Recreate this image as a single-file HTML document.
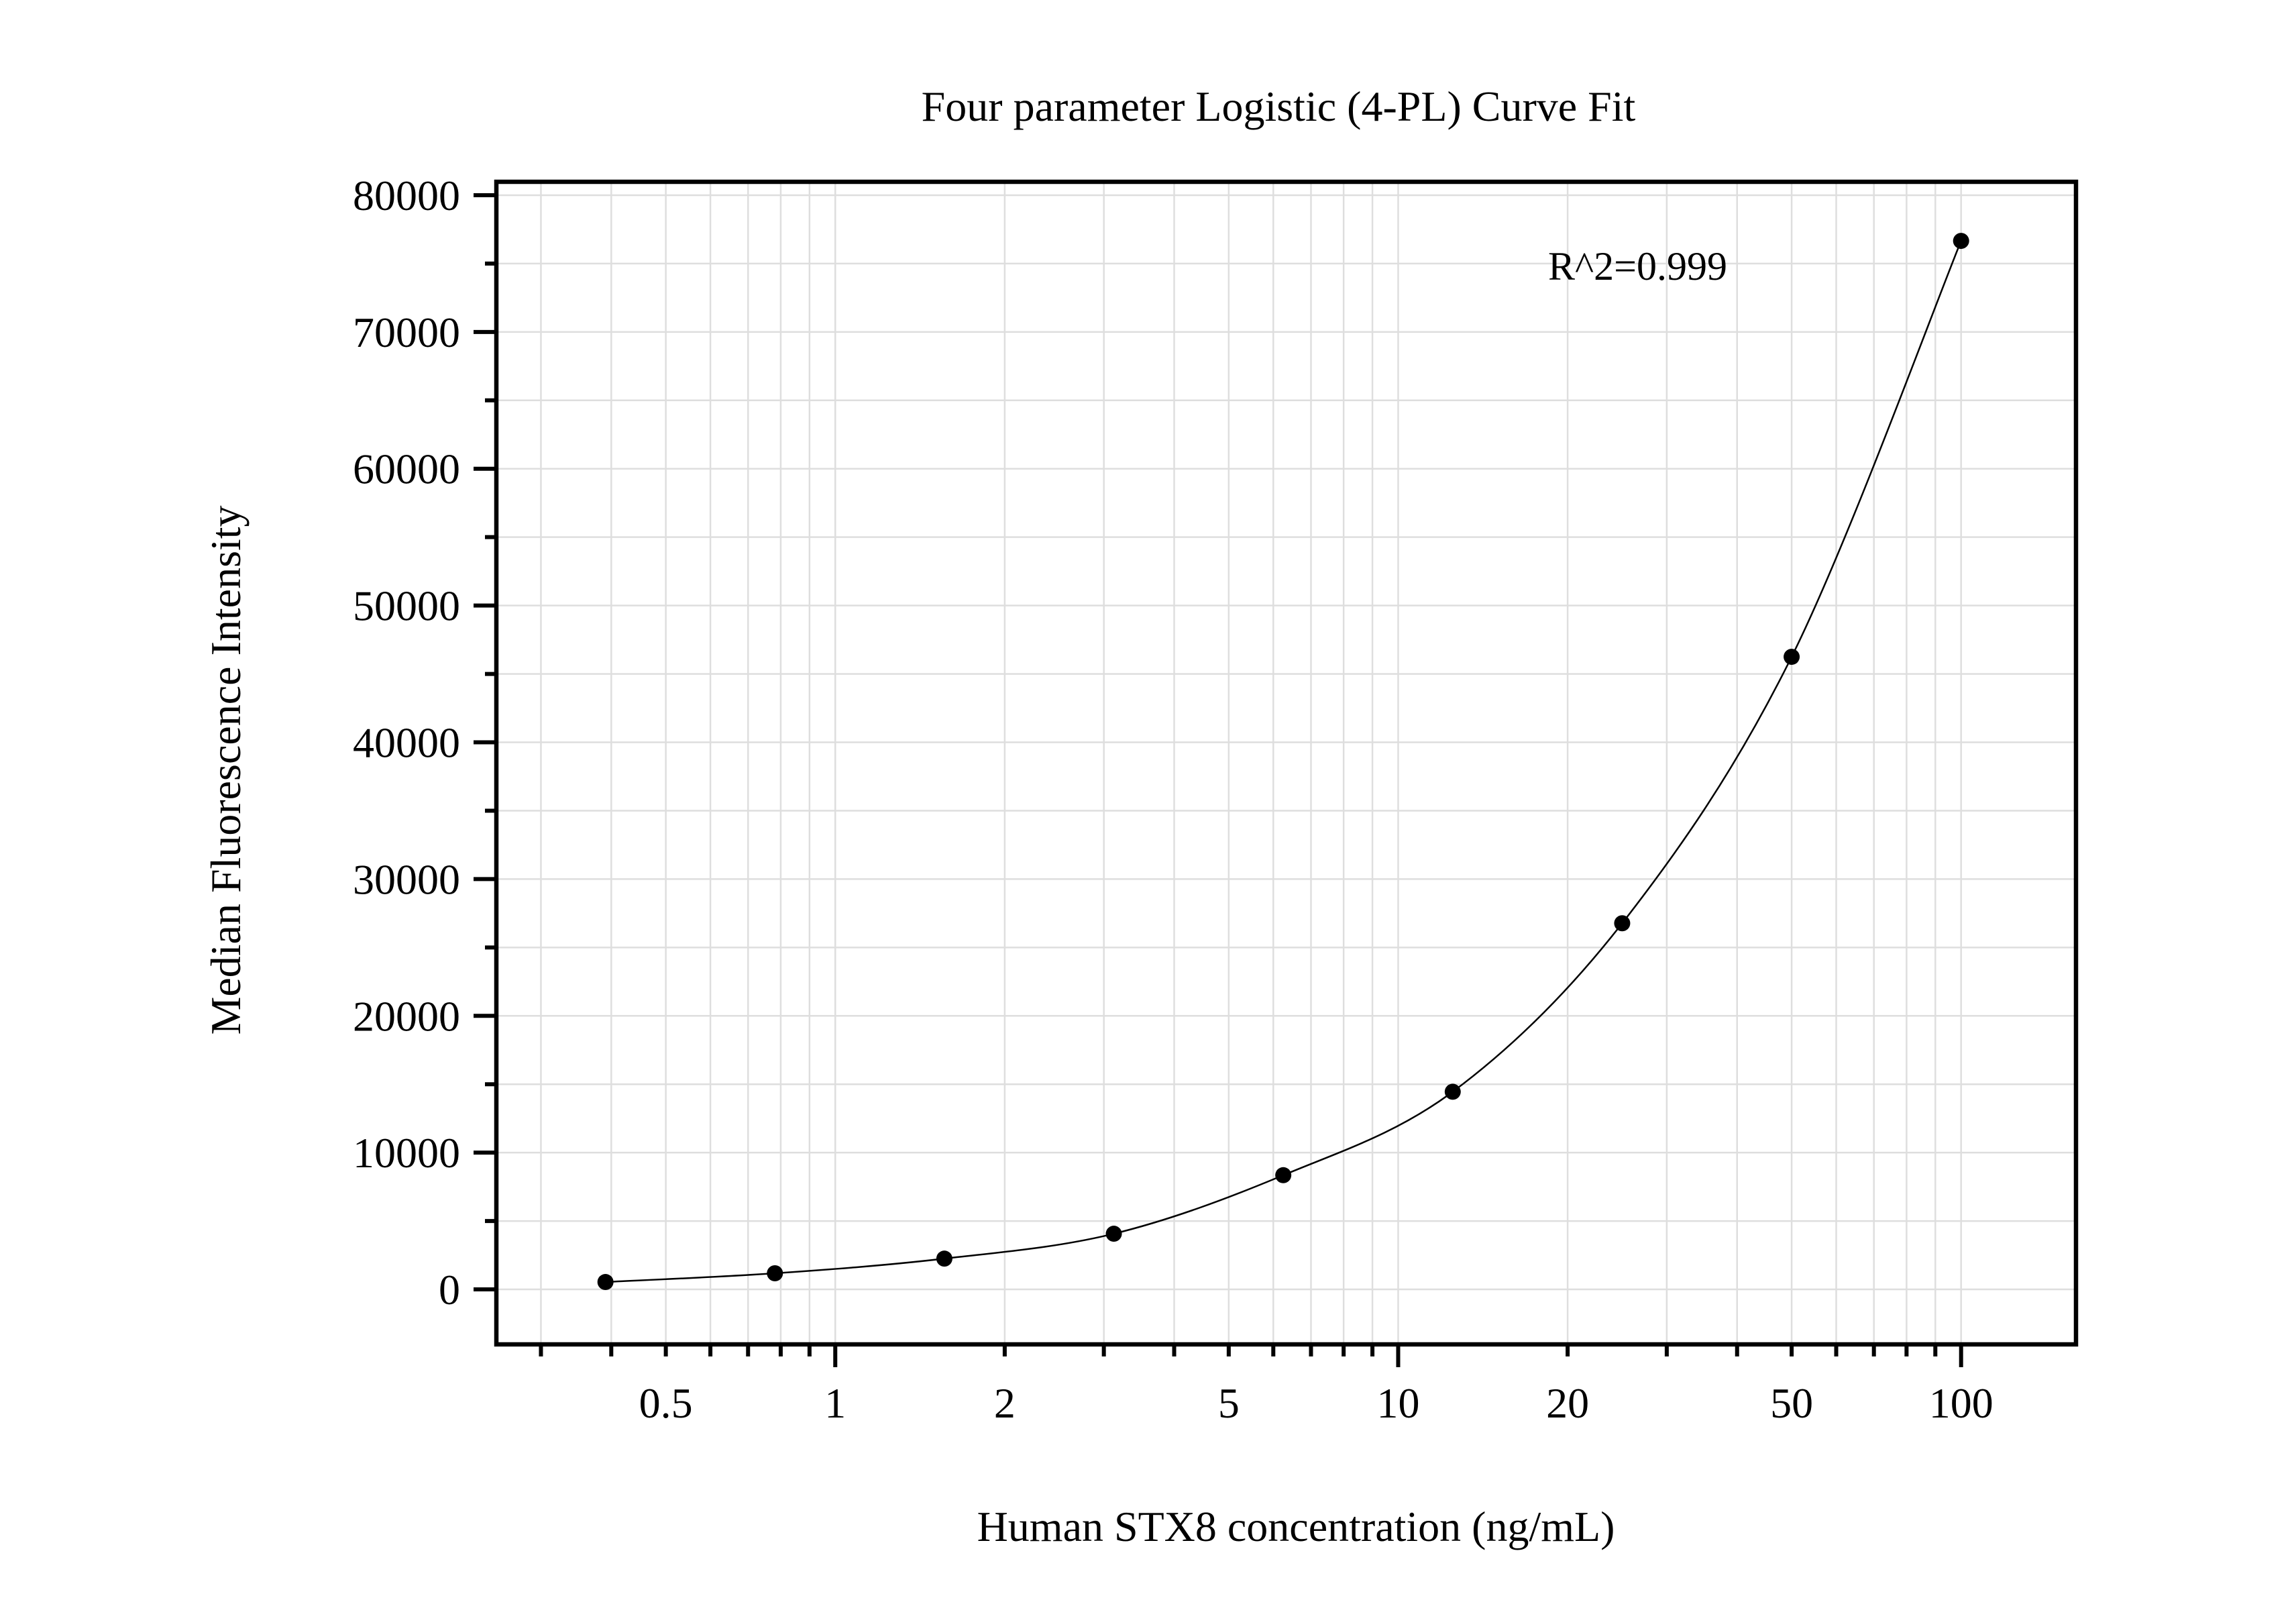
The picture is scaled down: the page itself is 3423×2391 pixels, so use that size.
<!DOCTYPE html>
<html><head><meta charset="utf-8"><style>
html,body{margin:0;padding:0;background:#fff;}
svg{display:block;font-family:"Liberation Serif",serif;}
</style></head><body>
<svg id="chart" width="3423" height="2391" viewBox="0 0 3423 2391" xmlns="http://www.w3.org/2000/svg">
<rect width="3423" height="2391" fill="#fff"/>
<g id="grid"></g>
<g id="curve-layer"></g>
<g id="points"></g>
<rect x="740" y="271" width="2355" height="1733" fill="none" stroke="#000" stroke-width="6.5"/>
<g id="axes"></g>
<text x="1906" y="180" font-size="64" text-anchor="middle">Four parameter Logistic (4-PL) Curve Fit</text>
<text x="2308" y="417" font-size="60">R^2=0.999</text>
<text x="1932" y="2297" font-size="64" text-anchor="middle">Human STX8 concentration (ng/mL)</text>
<text x="0" y="0" font-size="64" text-anchor="middle" transform="translate(358,1148) rotate(-90)">Median Fluorescence Intensity</text>
</svg>
<script>
const concentrations = [0.390625, 0.78125, 1.5625, 3.125, 6.25, 12.5, 25, 50, 100];
const mfiValues = [540, 1180, 2250, 4070, 8350, 14450, 26770, 46250, 76660];
const yTicks = [0, 10000, 20000, 30000, 40000, 50000, 60000, 70000, 80000];
const xTickLabels = ["0.5", "1", "2", "5", "10", "20", "50", "100"];
const xTickValues = [0.5, 1, 2, 5, 10, 20, 50, 100];

const NS = "http://www.w3.org/2000/svg";
const L = 740, R = 3095, T = 271, B = 2004;
const xMin = 0.25, xMax = 160, yMin = -4020, yMax = 80980;
function xs(v){ return L + (Math.log10(v) - Math.log10(xMin)) / (Math.log10(xMax) - Math.log10(xMin)) * (R - L); }
function ys(v){ return B - (v - yMin) / (yMax - yMin) * (B - T); }
function mk(tag, attrs, parent){ const e = document.createElementNS(NS, tag); for (const k in attrs) e.setAttribute(k, attrs[k]); parent.appendChild(e); return e; }

const grid = document.getElementById('grid');
const axes = document.getElementById('axes');
// x gridlines & ticks (log minor)
for (let d = -1; d <= 2; d++) {
  for (let m = 1; m <= 9; m++) {
    const v = m * Math.pow(10, d);
    if (v < xMin || v > xMax) continue;
    const x = xs(v);
    const g = mk('line', {x1:x, x2:x, y1:T, y2:B, stroke:'#dedede', 'stroke-width':2.5}, grid);
    
    
    const major = (m === 1);
    const t = mk('line', {x1:x, x2:x, y1:B, y2:B + (major ? 34 : 18), stroke:'#000', 'stroke-width':6}, axes);
    
    
  }
}
// y gridlines & ticks
for (let v = 0; v <= 80000; v += 5000) {
  const y = ys(v);
  const g = mk('line', {x1:L, x2:R, y1:y, y2:y, stroke:'#dedede', 'stroke-width':2.5}, grid);
  
  
  const major = v % 10000 === 0;
  const t = mk('line', {x1:L - (major ? 34 : 17), x2:L, y1:y, y2:y, stroke:'#000', 'stroke-width':6}, axes);
  
  
}
yTicks.forEach(v => {
  const t = mk('text', {x:686, y:ys(v) + 22, 'font-size':64, 'text-anchor':'end'}, axes);
  t.textContent = String(v);
  
  
});
xTickValues.forEach((v, i) => {
  const t = mk('text', {x:xs(v), y:2113, 'font-size':64, 'text-anchor':'middle'}, axes);
  t.textContent = xTickLabels[i];
  
  
});
// smooth curve through points (Catmull-Rom in screen space)
const pts = concentrations.map((c, i) => [xs(c), ys(mfiValues[i])]);
let d = 'M' + pts[0][0] + ',' + pts[0][1];
for (let i = 0; i < pts.length - 1; i++) {
  const p0 = pts[Math.max(0, i - 1)], p1 = pts[i], p2 = pts[i + 1], p3 = pts[Math.min(pts.length - 1, i + 2)];
  const c1 = [p1[0] + (p2[0] - p0[0]) / 6, p1[1] + (p2[1] - p0[1]) / 6];
  const c2 = [p2[0] - (p3[0] - p1[0]) / 6, p2[1] - (p3[1] - p1[1]) / 6];
  d += ' C' + c1[0] + ',' + c1[1] + ' ' + c2[0] + ',' + c2[1] + ' ' + p2[0] + ',' + p2[1];
}
const curve = mk('path', {d:d, fill:'none', stroke:'#000', 'stroke-width':2.5}, document.getElementById('curve-layer'));


const pg = document.getElementById('points');
pts.forEach(p => {
  const c = mk('circle', {cx:p[0], cy:p[1], r:12, fill:'#000'}, pg);
  
  
});
</script>
</body></html>
